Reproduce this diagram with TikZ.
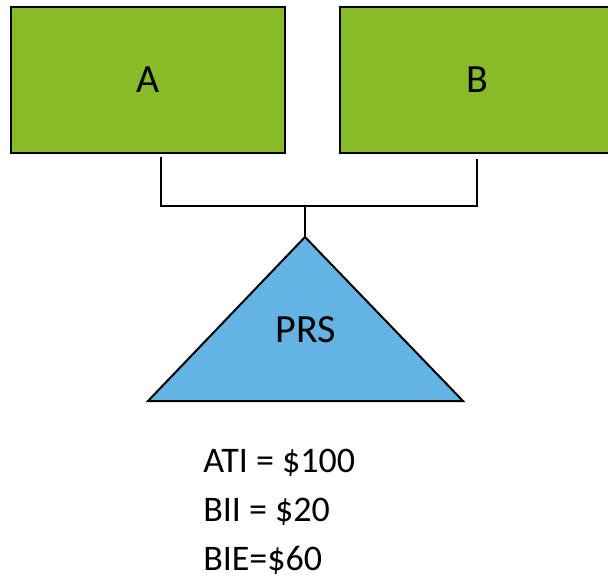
\documentclass[tikz,border=0pt]{standalone}
\usepackage{fontspec}
\setmainfont{Carlito}
\definecolor{boxgreen}{RGB}{135,188,40}
\definecolor{trublue}{RGB}{99,179,228}
\tikzset{
  entity/.style={draw=black, line width=1.5pt, fill=boxgreen, inner sep=0pt,
    minimum width=205.5pt, minimum height=109.5pt, font=\fontsize{30}{36}\selectfont},
  link/.style={line width=1.5pt},
  amount/.style={anchor=base west, inner sep=0pt, font=\fontsize{27}{32}\selectfont}
}
\begin{document}
\begin{tikzpicture}[x=0.75pt, y=-0.75pt]
        \useasboundingbox (0,0) rectangle (608,578);
        \clip (0,0) rectangle (608,578);
        \node[entity] (A) at (148,80) {A};
        \node[entity] (B) at (477,80) {B};
        % trust at the bottom
        \coordinate (apex) at (305,237);
        \coordinate (baseL) at (148,401);
        \coordinate (baseR) at (463,401);
        \filldraw[fill=trublue, line width=1.5pt, line join=miter] (apex) -- (baseR) -- (baseL) -- cycle;
        \node[font=\fontsize{30}{36}\selectfont] (PRS) at (306,330) {PRS};
        % ownership lines
        \coordinate (a1) at (161,157);
        \coordinate (b1) at (477,159);
        \coordinate (join) at (305,206);
        \draw[link] (a1) |- (join) -| (b1);
        \draw[link] (join) -- (apex);
        \node[amount] (ati) at (203,472) {ATI = \$100};
        \node[amount] (bii) at (203,521) {BII = \$20};
        \node[amount] (bie) at (203,570) {BIE=\$60};
        \end{tikzpicture}
\end{document}
